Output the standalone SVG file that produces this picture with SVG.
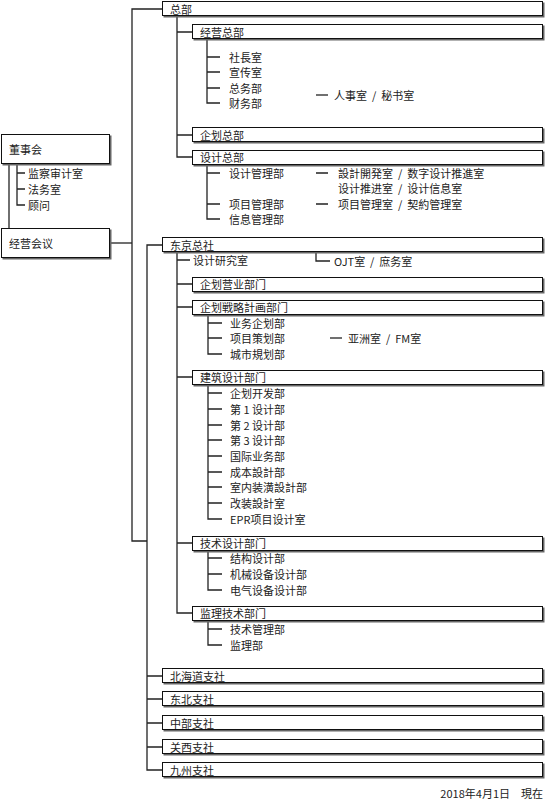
<svg xmlns="http://www.w3.org/2000/svg" width="545" height="800" viewBox="0 0 545 800">
<style>
text{font-family:"Noto Sans CJK SC","Noto Sans CJK JP",sans-serif;font-size:11px;fill:#222;dominant-baseline:central}
.box{fill:#fff;stroke:#111;stroke-width:1}
.sh{fill:#666}
.ln{fill:none;stroke:#222;stroke-width:1.3}
</style>
<defs>
<g id="dummy"/>
</defs>
<rect width="545" height="800" fill="#fff"/>
<g id="connectors" class="ln">
<path d="M162,9H132V541H147"/>
<path d="M110,243H132"/>
<path d="M9,164V228"/>
<path d="M17,164V205H25M17,173H25M17,189H25"/>
<path d="M177,16V157H192M177,32H192M177,135H192"/>
<path d="M207,39V103H220M207,57H220M207,72H220M207,88H220"/>
<path d="M316,95H328"/>
<path d="M207,165V219H220M207,173H220M207,204H220"/>
<path d="M316,173H328M316,204H328"/>
<path d="M162,245H147V770H162M147,676H162M147,699H162M147,723H162M147,747H162"/>
<path d="M177,252V613H192M177,260H190M177,284H192M177,307H192M177,377H192M177,543H192"/>
<path d="M316,252V261H330"/>
<path d="M208,314V354H222M208,323H222M208,338H222"/>
<path d="M330,338H342"/>
<path d="M208,385V519H222M208,393H222M208,409H222M208,425H222M208,440H222M208,456H222M208,472H222M208,487H222M208,503H222"/>
<path d="M208,551V590H222M208,558H222M208,574H222"/>
<path d="M208,621V645H222M208,629H222"/>
</g>
<g id="n-soumu"><rect class="sh" x="163.5" y="2.5" width="381" height="15"/><rect class="box" x="162.5" y="1.5" width="380" height="14"/><text x="170" y="9">总部</text></g>
<g id="n-keiei"><rect class="sh" x="193.5" y="25.5" width="351" height="15"/><rect class="box" x="192.5" y="24.5" width="350" height="14"/><text x="200" y="32">经营总部</text></g>
<g id="n-keiei-sub"><text x="229" y="57">社長室</text><text x="229" y="72">宣传室</text><text x="229" y="88">总务部</text><text x="229" y="103">财务部</text><text x="334" y="95" xml:space="preserve">人事室  /  秘书室</text></g>
<g id="n-kikaku"><rect class="sh" x="193.5" y="128.5" width="351" height="15"/><rect class="box" x="192.5" y="127.5" width="350" height="14"/><text x="200" y="135">企划总部</text></g>
<g id="n-sekkei"><rect class="sh" x="193.5" y="151.5" width="351" height="15"/><rect class="box" x="192.5" y="150.5" width="350" height="14"/><text x="200" y="157">设计总部</text></g>
<g id="n-sekkei-sub"><text x="229" y="173">设计管理部</text><text x="229" y="204">项目管理部</text><text x="229" y="219">信息管理部</text><text x="338" y="173" xml:space="preserve">設計開発室  /  数字设计推進室</text><text x="338" y="188" xml:space="preserve">设计推进室  /  设计信息室</text><text x="338" y="204" xml:space="preserve">项目管理室  /  契約管理室</text></g>
<g id="n-board"><rect class="sh" x="2.5" y="135.5" width="109" height="30"/><rect class="box" x="1.5" y="134.5" width="108" height="29"/><text x="9" y="149">董事会</text></g>
<g id="n-board-sub"><text x="28" y="173">监察审计室</text><text x="28" y="189">法务室</text><text x="28" y="205">顾问</text></g>
<g id="n-meeting"><rect class="sh" x="2.5" y="229.5" width="109" height="30"/><rect class="box" x="1.5" y="228.5" width="108" height="29"/><text x="9" y="243">经营会议</text></g>
<g id="n-tokyo"><rect class="sh" x="163.5" y="238.5" width="381" height="15"/><rect class="box" x="162.5" y="237.5" width="380" height="14"/><text x="170" y="245">东京总社</text></g>
<g id="n-lab"><text x="193" y="260">设计研究室</text><text x="334" y="261" xml:space="preserve">OJT室  /  庶务室</text></g>
<g id="n-eigyo"><rect class="sh" x="193.5" y="278.5" width="351" height="15"/><rect class="box" x="192.5" y="277.5" width="350" height="14"/><text x="200" y="284">企划营业部门</text></g>
<g id="n-senryaku"><rect class="sh" x="193.5" y="301.5" width="351" height="15"/><rect class="box" x="192.5" y="300.5" width="350" height="14"/><text x="200" y="307">企划戦略計画部门</text></g>
<g id="n-senryaku-sub"><text x="230" y="323">业务企划部</text><text x="230" y="338">项目策划部</text><text x="230" y="354">城市規划部</text><text x="348" y="338" xml:space="preserve">亚洲室  /  FM室</text></g>
<g id="n-kenchiku"><rect class="sh" x="193.5" y="371.5" width="351" height="15"/><rect class="box" x="192.5" y="370.5" width="350" height="14"/><text x="200" y="377">建筑设计部门</text></g>
<g id="n-kenchiku-sub"><text x="230" y="393">企划开发部</text><text x="230" y="409">第 1 设计部</text><text x="230" y="425">第 2 设计部</text><text x="230" y="440">第 3 设计部</text><text x="230" y="456">国际业务部</text><text x="230" y="472">成本設計部</text><text x="230" y="487">室内装潢設計部</text><text x="230" y="503">改装設計室</text><text x="230" y="519">EPR项目设计室</text></g>
<g id="n-gijutsu"><rect class="sh" x="193.5" y="537.5" width="351" height="15"/><rect class="box" x="192.5" y="536.5" width="350" height="14"/><text x="200" y="543">技术设计部门</text></g>
<g id="n-gijutsu-sub"><text x="230" y="558">结构设计部</text><text x="230" y="574">机械设备设计部</text><text x="230" y="590">电气设备设计部</text></g>
<g id="n-kanri"><rect class="sh" x="193.5" y="607.5" width="351" height="15"/><rect class="box" x="192.5" y="606.5" width="350" height="14"/><text x="200" y="613">监理技术部门</text></g>
<g id="n-kanri-sub"><text x="230" y="629">技术管理部</text><text x="230" y="645">监理部</text></g>
<g id="n-hokkaido"><rect class="sh" x="163.5" y="669.5" width="381" height="15"/><rect class="box" x="162.5" y="668.5" width="380" height="14"/><text x="170" y="676">北海道支社</text></g>
<g id="n-tohoku"><rect class="sh" x="163.5" y="692.5" width="381" height="15"/><rect class="box" x="162.5" y="691.5" width="380" height="14"/><text x="170" y="699">东北支社</text></g>
<g id="n-chubu"><rect class="sh" x="163.5" y="716.5" width="381" height="15"/><rect class="box" x="162.5" y="715.5" width="380" height="14"/><text x="170" y="723">中部支社</text></g>
<g id="n-kansai"><rect class="sh" x="163.5" y="740.5" width="381" height="15"/><rect class="box" x="162.5" y="739.5" width="380" height="14"/><text x="170" y="747">关西支社</text></g>
<g id="n-kyushu"><rect class="sh" x="163.5" y="763.5" width="381" height="15"/><rect class="box" x="162.5" y="762.5" width="380" height="14"/><text x="170" y="770">九州支社</text></g>
<g id="footer"><text x="543" y="793" text-anchor="end">2018年4月1日　現在</text></g>
</svg>
